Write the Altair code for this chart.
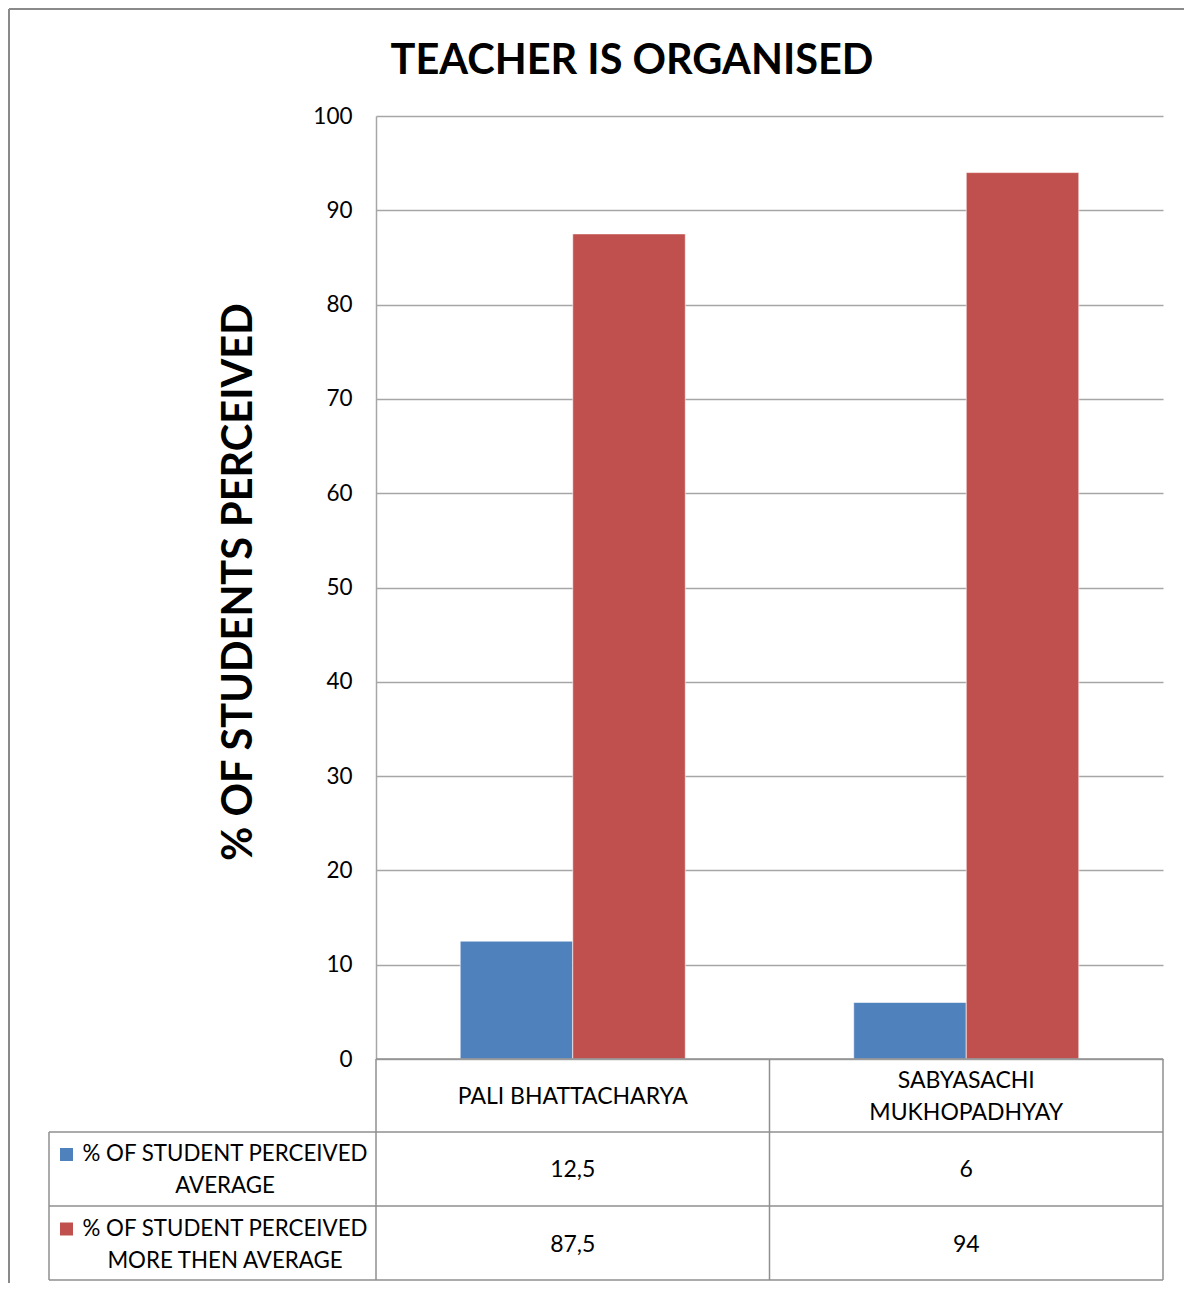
import altair as alt
import pandas as pd

# ---- data ----
teachers = ["PALI BHATTACHARYA", "SABYASACHI MUKHOPADHYAY"]
series = ["% OF STUDENT PERCEIVED AVERAGE", "% OF STUDENT PERCEIVED MORE THEN AVERAGE"]
avg_values = [12.5, 6]
more_values = [87.5, 94]
colors = ["#4F81BD", "#C0504D"]
y_ticks = [0, 10, 20, 30, 40, 50, 60, 70, 80, 90, 100]
title_text = "TEACHER IS ORGANISED"
y_title = "% OF STUDENTS PERCEIVED"

rows = []
for si, (s, vals) in enumerate(zip(series, [avg_values, more_values])):
    for t, v in zip(teachers, vals):
        rows.append({"teacher": t, "series": s, "value": v, "row": si})
df = pd.DataFrame(rows)
ser_df = pd.DataFrame({"series": series, "row": list(range(len(series)))})
teach_df = pd.DataFrame({"teacher": teachers})
one = pd.DataFrame({"a": [0]})

FONT = "Lato"
GRID = "#a6a6a6"
LINE = "#8f8f8f"
W, H = 787, 943
PAD = {"left": 368, "top": 108, "right": 21, "bottom": 225}

xscale = alt.Scale(domain=teachers, paddingInner=0.428, paddingOuter=0.214)
cscale = alt.Scale(domain=series, range=colors)

bars = alt.Chart(df).mark_bar(stroke="white", strokeWidth=0.6).encode(
    x=alt.X("teacher:N", scale=xscale, axis=None),
    xOffset=alt.XOffset("series:N", scale=alt.Scale(domain=series, paddingInner=0, paddingOuter=0)),
    y=alt.Y("value:Q", scale=alt.Scale(domain=[0, 100]),
            axis=alt.Axis(values=y_ticks, grid=True, gridColor=GRID, gridWidth=1.5,
                          domainColor=GRID, domainWidth=1.5, ticks=False,
                          labelFont=FONT, labelFontSize=22.5, labelColor="black",
                          labelPadding=24, title=None)),
    color=alt.Color("series:N", scale=cscale, legend=None),
)

def rule(x, x2, y, y2, color=LINE, w=1.5):
    return alt.Chart(one).mark_rule(color=color, strokeWidth=w).encode(
        x=alt.value(x), x2=alt.value(x2), y=alt.value(y), y2=alt.value(y2))

table_top, r1, r2, r3 = H, 1016, 1090, 1164
left_col = -327
mid = W / 2
bottom_rel = H + PAD["bottom"] - 1
lines = [
    rule(0, W, table_top, table_top),
    rule(left_col, W, r1, r1),
    rule(left_col, W, r2, r2),
    rule(left_col, W, r3, r3),
    rule(left_col, left_col, r1, r3),
    rule(0, 0, table_top, r3),
    rule(mid, mid, table_top, r3),
    rule(W, W, table_top, r3),
    # outer chart border (left & top)
    rule(-367, -367, -107, bottom_rel, color="#8a8a8a", w=2),
    rule(-367, W + PAD["right"], -107, -107, color="#8a8a8a", w=2),
]

header = alt.Chart(teach_df).transform_calculate(
    lbl="length(datum.teacher) > 20 ? split(datum.teacher, ' ') : [datum.teacher]",
    py="981 - 16*(length(datum.lbl) - 1)",
).mark_text(font=FONT, fontSize=23, color="black", baseline="middle",
            lineHeight=32).encode(
    x=alt.X("teacher:N", scale=xscale, axis=None),
    y=alt.Y("py:Q", scale=None, axis=None),
    text="lbl:N",
)

cells = alt.Chart(df).transform_calculate(
    lbl="replace(toString(datum.value), '.', ',')",
    py="1054 + 74.5*datum.row",
).mark_text(font=FONT, fontSize=23, color="black", baseline="middle").encode(
    x=alt.X("teacher:N", scale=xscale, axis=None),
    y=alt.Y("py:Q", scale=None, axis=None),
    text="lbl:N",
)

row_labels = alt.Chart(ser_df).transform_calculate(
    lbl="replace(datum.series, 'PERCEIVED ', 'PERCEIVED\\n')",
    py="1038 + 74.5*datum.row",
).mark_text(font=FONT, fontSize=22.3, color="black", baseline="middle",
            lineBreak="\n", lineHeight=32).encode(
    x=alt.value(-151),
    y=alt.Y("py:Q", scale=None, axis=None),
    text="lbl:N",
)

swatches = alt.Chart(ser_df).transform_calculate(
    py="1038.5 + 74.5*datum.row",
).mark_square(size=169, opacity=1, filled=True).encode(
    x=alt.value(-309.5),
    y=alt.Y("py:Q", scale=None, axis=None),
    color=alt.Color("series:N", scale=cscale, legend=None),
)

title = alt.Chart(one).mark_text(text=title_text, font=FONT, fontSize=41.5, fontWeight="bold",
                                 color="black", baseline="middle", align="center").encode(
    x=alt.value(256), y=alt.value(-54))

ytitle = alt.Chart(one).mark_text(text=y_title, font=FONT, fontSize=41.5, fontWeight="bold",
                                  color="black", baseline="middle", align="center", angle=270).encode(
    x=alt.value(-136), y=alt.value(466))

chart = alt.layer(bars, *lines, header, cells, row_labels, swatches, title, ytitle).properties(
    width=W, height=H,
    autosize=alt.AutoSizeParams(type="none"),
    padding=PAD,
).configure_view(stroke=None)

chart.save("out.html", embed_options={"renderer": "svg", "actions": False})
